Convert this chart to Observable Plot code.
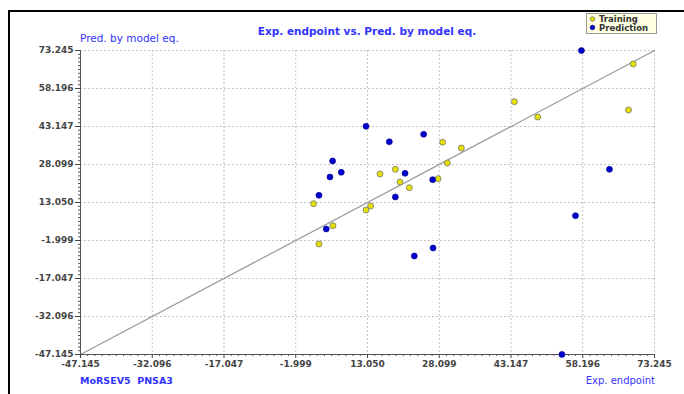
<!DOCTYPE html>
<html><head><meta charset="utf-8">
<script src="https://cdn.jsdelivr.net/npm/d3@7"></script>
<script src="https://cdn.jsdelivr.net/npm/@observablehq/plot@0.6"></script>
<style>body{margin:0;background:#fff} svg{display:block}</style>
</head><body><div id="chart"></div>
<script>
// ---- data ----
const trainingX = [68.78, 43.86, 48.75, 67.79, 28.81, 32.74, 29.80, 15.68, 18.89, 19.87, 21.82, 27.85, 1.74, 13.70, 12.74, 5.81, 2.87];
const trainingY = [67.9, 52.97, 46.9, 49.7, 36.9, 34.6, 28.7, 24.35, 26.2, 21.17, 18.9, 22.48, 12.57, 11.67, 10.08, 3.87, -3.38];
const predictionX = [57.92, 12.74, 17.63, 24.83, 5.73, 7.55, 5.18, 2.87, 20.92, 18.89, 26.72, 63.80, 56.67, 4.40, 22.87, 26.80, 53.83];
const predictionY = [73.2, 43.2, 37.1, 40.05, 29.5, 25.0, 23.15, 15.9, 24.6, 15.25, 22.1, 26.2, 7.83, 2.56, -8.13, -4.97, -47.1];
const tickValues = [-47.145, -32.096, -17.047, -1.999, 13.050, 28.099, 43.147, 58.196, 73.245];
const tickLabels = ["-47.145", "-32.096", "-17.047", "-1.999", "13.050", "28.099", "43.147", "58.196", "73.245"];
const axisMin = -47.145, axisMax = 73.245;
const titleText = "Exp. endpoint vs. Pred. by model eq.";
const yLabel = "Pred. by model eq.";
const xLabel = "Exp. endpoint";
const descriptorText = "MoRSEV5  PNSA3";
const seriesNames = ["Training", "Prediction"];
const seriesColors = ["#e6e000", "#0000cc"];

const training = trainingX.map((x, i) => ({x, y: trainingY[i]}));
const prediction = predictionX.map((x, i) => ({x, y: predictionY[i]}));
const minorTicks = [];
for (let i = 0; i < tickValues.length - 1; i++) {
  for (let k = 1; k < 10; k++) minorTicks.push(tickValues[i] + (tickValues[i + 1] - tickValues[i]) * k / 10);
}
const fmt = d => tickLabels[tickValues.indexOf(d)];

const plot = Plot.plot({
  width: 684, height: 394,
  marginLeft: 80, marginRight: 30, marginTop: 50, marginBottom: 40,
  style: {fontFamily: "DejaVu Sans", background: "transparent"},
  x: {domain: [axisMin, axisMax], label: null},
  y: {domain: [axisMin, axisMax], label: null},
  marks: [
    Plot.gridX({ticks: tickValues, stroke: "#c4c4c4", strokeOpacity: 1, strokeDasharray: "2,2"}),
    Plot.gridY({ticks: tickValues, stroke: "#c4c4c4", strokeOpacity: 1, strokeDasharray: "2,2"}),
    Plot.line([[axisMin, axisMin], [axisMax, axisMax]], {stroke: "#999", strokeWidth: 1.2}),
    Plot.ruleX([axisMin], {stroke: "#555"}),
    Plot.ruleY([axisMin], {stroke: "#555"}),
    Plot.axisX({ticks: minorTicks, tickSize: 2, tickFormat: () => "", color: "#555", label: null}),
    Plot.axisY({ticks: minorTicks, tickSize: 2, tickFormat: () => "", color: "#555", label: null}),
    Plot.axisX({ticks: tickValues, tickSize: 4, tickPadding: 2, tickFormat: fmt, color: "#444", fontWeight: "bold", fontSize: 9, label: null}),
    Plot.axisY({ticks: tickValues, tickSize: 5, tickPadding: 2, tickFormat: fmt, color: "#444", fontWeight: "bold", fontSize: 9, label: null}),
    Plot.dot(training, {x: "x", y: "y", r: 3, fill: seriesColors[0], stroke: "#777", strokeWidth: 0.8}),
    Plot.dot(prediction, {x: "x", y: "y", r: 3, fill: seriesColors[1], stroke: "#000088", strokeWidth: 0.6})
  ]
});

const svg = d3.select(plot);
// frame lines
svg.append("path").attr("d", "M9,394V11H684").attr("fill", "none").attr("stroke", "#000").attr("stroke-width", 2);
// texts
const blue = "#3333ff";
const addText = (x, y, anchor, size, weight, fill, txt) =>
  svg.append("text").attr("x", x).attr("y", y).attr("text-anchor", anchor)
    .attr("font-family", "DejaVu Sans").attr("font-size", size).attr("font-weight", weight)
    .attr("fill", fill).attr("xml:space", "preserve").style("white-space", "pre").text(txt);
addText(367, 35, "middle", 10.5, "bold", blue, titleText);
addText(80, 42, "start", 10.5, "normal", blue, yLabel);
addText(80, 384, "start", 9.5, "bold", blue, descriptorText);
addText(655, 384, "end", 10, "normal", blue, xLabel);
// legend
const lg = svg.append("g");
lg.append("rect").attr("x", 586.5).attr("y", 13.5).attr("width", 70).attr("height", 20)
  .attr("fill", "#ffffe4").attr("stroke", "#999");
seriesNames.forEach((name, i) => {
  lg.append("circle").attr("cx", 592.5).attr("cy", 19 + i * 8.5).attr("r", 2.3)
    .attr("fill", seriesColors[i]).attr("stroke", i === 0 ? "#666" : "#000088").attr("stroke-width", 0.7);
  lg.append("text").attr("x", 599).attr("y", 22 + i * 8.5).attr("text-anchor", "start")
    .attr("font-family", "DejaVu Sans").attr("font-size", 8.5).attr("font-weight", "bold").attr("fill", "#333").text(name);
});

document.getElementById("chart").appendChild(plot);
</script>
</body></html>
